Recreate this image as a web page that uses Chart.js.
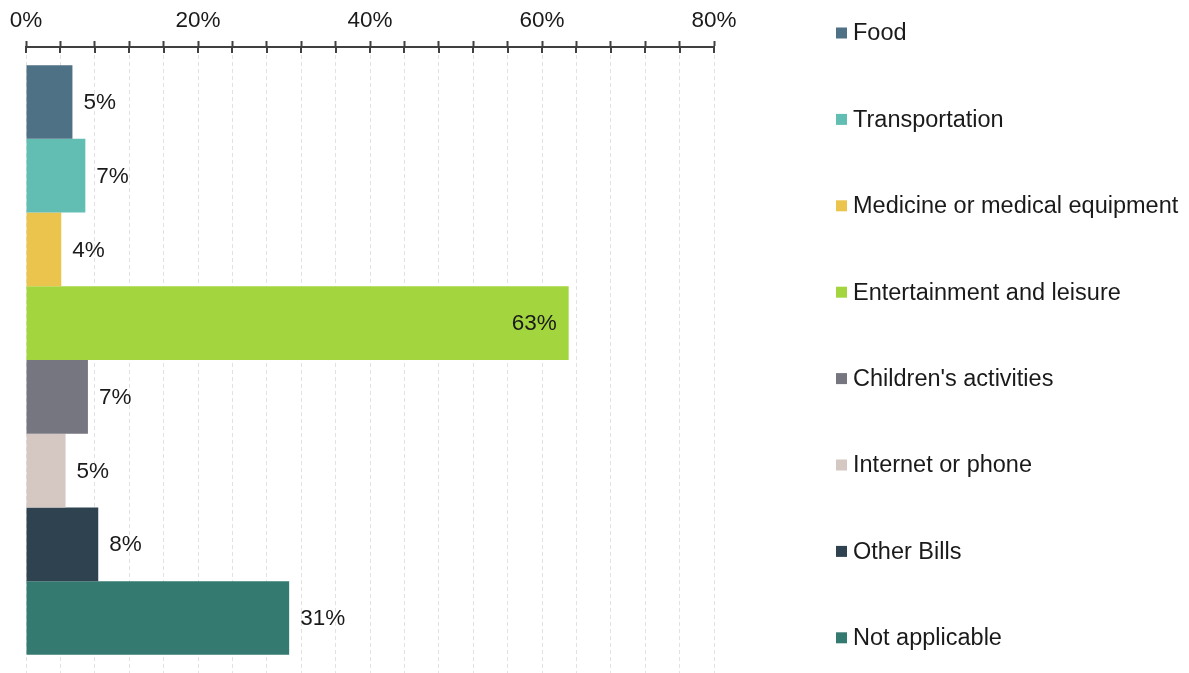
<!DOCTYPE html>
<html>
<head>
<meta charset="utf-8">
<script src="https://cdn.jsdelivr.net/npm/chart.js@4.4.1/dist/chart.umd.min.js"></script>
<style>
  html, body { margin: 0; padding: 0; background: #ffffff; }
  #wrap { width: 1189px; height: 673px; position: relative; }
</style>
</head>
<body>
<div id="wrap"><canvas id="c" width="1189" height="673"></canvas></div>
<script>
const categories = ["Food", "Transportation", "Medicine or medical equipment", "Entertainment and leisure", "Children's activities", "Internet or phone", "Other Bills", "Not applicable"];
const values = [5.4, 6.9, 4.1, 63.1, 7.2, 4.6, 8.4, 30.6];
const colors = ["#4E7185", "#62BEB3", "#EBC44E", "#A3D63E", "#767680", "#D5C8C2", "#2F4250", "#357A70"];
const tickValues = [0, 20, 40, 60, 80];

const FONT = "'Liberation Sans', Arial, sans-serif";
const TEXT = "#1a1a1a";

const datasets = categories.map((name, i) => ({
  label: name,
  data: [values[i]],
  backgroundColor: colors[i],
  borderWidth: 0,
  categoryPercentage: 0.942,
  barPercentage: 1.0
}));

const valueLabels = {
  id: 'valueLabels',
  afterDatasetsDraw(chart) {
    const ctx = chart.ctx;
    ctx.save();
    ctx.font = "22.5px " + FONT;
    ctx.fillStyle = TEXT;
    ctx.textBaseline = 'middle';
    chart.data.datasets.forEach((ds, i) => {
      const meta = chart.getDatasetMeta(i);
      meta.data.forEach((bar, j) => {
        const v = ds.data[j];
        const txt = Math.round(v) + '%';
        if (v > 50) {
          ctx.textAlign = 'right';
          ctx.fillText(txt, bar.x - 12, bar.y + 1);
        } else {
          ctx.textAlign = 'left';
          ctx.fillText(txt, bar.x + 11, bar.y + 1);
        }
      });
    });
    ctx.restore();
  }
};

const tickCross = {
  id: 'tickCross',
  afterDraw(chart) {
    const sc = chart.scales.x;
    const ctx = chart.ctx;
    ctx.save();
    ctx.strokeStyle = '#404040';
    ctx.lineWidth = 2;
    const y0 = sc.bottom;
    for (let i = 0; i < sc.ticks.length; i++) {
      const x = Math.round(sc.getPixelForTick(i));
      ctx.beginPath();
      ctx.moveTo(x, y0);
      ctx.lineTo(x, y0 + 6);
      ctx.stroke();
    }
    ctx.restore();
  }
};

const sideLegend = {
  id: 'sideLegend',
  afterDraw(chart) {
    const ctx = chart.ctx;
    const x0 = chart.chartArea.right + 122;
    const yStart = 33, step = 86.4;
    ctx.save();
    ctx.font = "23.5px " + FONT;
    ctx.textBaseline = 'middle';
    ctx.textAlign = 'left';
    chart.data.datasets.forEach((ds, i) => {
      const y = yStart + i * step;
      ctx.fillStyle = ds.backgroundColor;
      ctx.fillRect(x0, y - 5.5, 11, 11);
      ctx.fillStyle = TEXT;
      ctx.fillText(ds.label, x0 + 17, y + 1);
    });
    ctx.restore();
  }
};

new Chart(document.getElementById('c'), {
  type: 'bar',
  data: { labels: [''], datasets },
  options: {
    indexAxis: 'y',
    responsive: false,
    animation: false,
    layout: { padding: { left: 26, right: 475, top: 0, bottom: 0 } },
    plugins: {
      legend: { display: false },
      tooltip: { enabled: false }
    },
    scales: {
      x: {
        position: 'top',
        min: 0,
        max: 80,
        ticks: {
          stepSize: 4,
          padding: 7,
          color: TEXT,
          font: { family: FONT, size: 22.5 },
          maxRotation: 0,
          autoSkip: false,
          callback: (v) => tickValues.includes(v) ? v + '%' : ''
        },
        grid: {
          color: '#e2e2e2',
          lineWidth: 1,
          tickColor: '#404040',
          tickWidth: 2,
          tickLength: 6
        },
        border: { display: true, color: '#404040', width: 2, dash: [4, 3] }
      },
      y: {
        display: false,
        grid: { display: false }
      }
    }
  },
  plugins: [valueLabels, tickCross, sideLegend]
});
</script>
</body>
</html>
